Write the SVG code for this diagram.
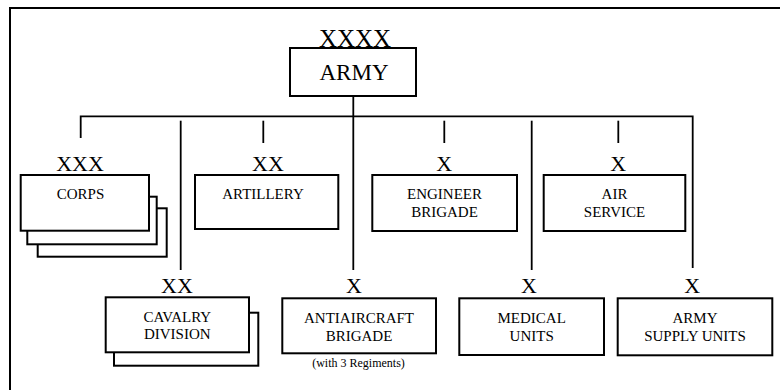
<svg xmlns="http://www.w3.org/2000/svg" width="780" height="390" viewBox="0 0 780 390">
  <style>
    .box { fill: #fff; stroke: #000; stroke-width: 2; }
    .wire { fill: none; stroke: #000; stroke-width: 1.8; }
  </style>
  <rect width="780" height="390" fill="#fff"/>
  <!-- outer frame (runs off the right and bottom edges) -->
  <rect x="10" y="8" width="800" height="400" fill="none" stroke="#000" stroke-width="2"/>

  <g id="connectors">
    <line class="wire" x1="353.3" y1="96" x2="353.3" y2="270"/>
    <polyline class="wire" points="80.7,138 80.7,116.3 692.7,116.3 692.7,268"/>
    <line class="wire" x1="180.7" y1="120.7" x2="180.7" y2="270"/>
    <line class="wire" x1="263.3" y1="120.7" x2="263.3" y2="143"/>
    <line class="wire" x1="444.3" y1="120.7" x2="444.3" y2="143"/>
    <line class="wire" x1="531.7" y1="120.7" x2="531.7" y2="270"/>
    <line class="wire" x1="618.3" y1="120.7" x2="618.3" y2="143"/>
  </g>

  <g id="army">
    <text x="355" y="47" font-family="Liberation Serif" font-size="25" text-anchor="middle">XXXX</text>
    <rect class="box" x="290" y="48" width="126" height="48"/>
    <text x="354" y="80" font-family="Liberation Serif" font-size="23" text-anchor="middle">ARMY</text>
  </g>

  <g id="corps">
    <text x="80" y="170.7" font-family="Liberation Serif" font-size="22" text-anchor="middle">XXX</text>
    <rect class="box" x="37.7" y="208.3" width="129" height="48.4"/>
    <rect class="box" x="27.3" y="196.7" width="129.4" height="47.6"/>
    <rect class="box" x="20.7" y="175" width="128.3" height="55.7"/>
    <text x="80.5" y="199" font-family="Liberation Serif" font-size="15" text-anchor="middle">CORPS</text>
  </g>

  <g id="artillery">
    <text x="268" y="170.7" font-family="Liberation Serif" font-size="22" text-anchor="middle">XX</text>
    <rect class="box" x="195" y="175" width="143.3" height="54"/>
    <text x="263" y="199" font-family="Liberation Serif" font-size="15" text-anchor="middle">ARTILLERY</text>
  </g>

  <g id="engineer-brigade">
    <text x="444.3" y="170.7" font-family="Liberation Serif" font-size="22" text-anchor="middle">X</text>
    <rect class="box" x="372.3" y="175" width="144.7" height="56"/>
    <text x="444.5" y="199" font-family="Liberation Serif" font-size="15" text-anchor="middle">ENGINEER</text>
    <text x="444.5" y="216.7" font-family="Liberation Serif" font-size="15" text-anchor="middle">BRIGADE</text>
  </g>

  <g id="air-service">
    <text x="618.3" y="170.7" font-family="Liberation Serif" font-size="22" text-anchor="middle">X</text>
    <rect class="box" x="543.7" y="175" width="141.6" height="56"/>
    <text x="614.5" y="199" font-family="Liberation Serif" font-size="15" text-anchor="middle">AIR</text>
    <text x="614.5" y="216.7" font-family="Liberation Serif" font-size="15" text-anchor="middle">SERVICE</text>
  </g>

  <g id="cavalry-division">
    <text x="177" y="293.3" font-family="Liberation Serif" font-size="22" text-anchor="middle">XX</text>
    <rect class="box" x="114" y="312.7" width="144.3" height="53"/>
    <rect class="box" x="105.7" y="297.3" width="143.3" height="55"/>
    <text x="177.3" y="321.7" font-family="Liberation Serif" font-size="15" text-anchor="middle">CAVALRY</text>
    <text x="177.3" y="339" font-family="Liberation Serif" font-size="15" text-anchor="middle">DIVISION</text>
  </g>

  <g id="antiaircraft-brigade">
    <text x="354" y="293.3" font-family="Liberation Serif" font-size="22" text-anchor="middle">X</text>
    <rect class="box" x="282.3" y="298.3" width="153.7" height="55"/>
    <text x="359" y="322.7" font-family="Liberation Serif" font-size="15" text-anchor="middle">ANTIAIRCRAFT</text>
    <text x="359" y="340.7" font-family="Liberation Serif" font-size="15" text-anchor="middle">BRIGADE</text>
    <text x="358.5" y="366.7" font-family="Liberation Serif" font-size="12" text-anchor="middle">(with 3 Regiments)</text>
  </g>

  <g id="medical-units">
    <text x="529" y="293.3" font-family="Liberation Serif" font-size="22" text-anchor="middle">X</text>
    <rect class="box" x="459.3" y="298.3" width="144.7" height="56.7"/>
    <text x="531.7" y="323.3" font-family="Liberation Serif" font-size="15" text-anchor="middle">MEDICAL</text>
    <text x="531.7" y="340.7" font-family="Liberation Serif" font-size="15" text-anchor="middle">UNITS</text>
  </g>

  <g id="army-supply-units">
    <text x="692.3" y="293.3" font-family="Liberation Serif" font-size="22" text-anchor="middle">X</text>
    <rect class="box" x="617.7" y="298.3" width="154.6" height="57"/>
    <text x="695" y="323.3" font-family="Liberation Serif" font-size="15" text-anchor="middle">ARMY</text>
    <text x="695" y="340.7" font-family="Liberation Serif" font-size="15" text-anchor="middle">SUPPLY UNITS</text>
  </g>
</svg>
